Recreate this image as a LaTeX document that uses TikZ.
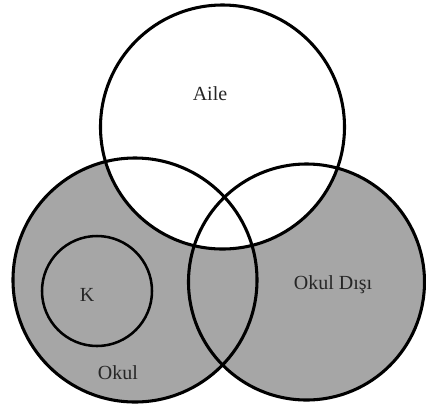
\documentclass[tikz,border=0pt]{standalone}
\usepackage{fontspec}
\setmainfont{Liberation Serif}
\definecolor{venngray}{RGB}{166,166,166}
\begin{document}
\begin{tikzpicture}[x=0.75pt,y=-0.75pt,
  ring/.style={draw=black,line width=2.3pt},
  lbl/.style={font=\fontsize{15}{18}\selectfont,text=black!85}]
\useasboundingbox (0,0) rectangle (426,405);
\fill[white] (0,0) rectangle (426,405);
% fills
\fill[venngray] (135,280) circle (122);
\fill[venngray] (306.5,282) circle (118);
\fill[white] (222.5,127) circle (122);
% outlines
\draw[ring] (222.5,127) circle (122);
\draw[ring] (135,280) circle (122);
\draw[ring] (306.5,282) circle (118);
\draw[ring,line width=1.9pt] (97,291) circle (55);
% labels
\node[lbl] (aile) at (210,94) {Aile};
\node[lbl] (k) at (87,295) {K};
\node[lbl] (okul) at (118,373) {Okul};
\node[lbl] (disi) at (333,285) {Okul Dışı};
\end{tikzpicture}
\end{document}
